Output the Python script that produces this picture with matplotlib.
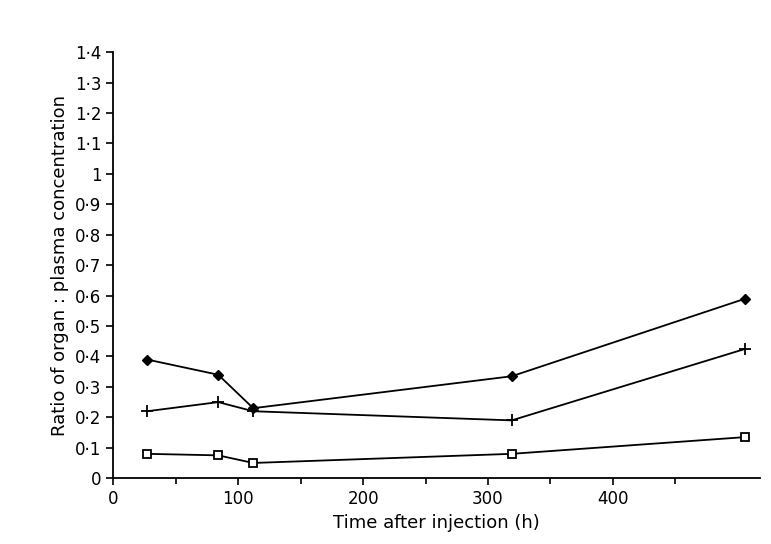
import matplotlib.pyplot as plt

# x positions as they sit against the printed axis labels
time_h = [27, 84, 112, 319, 506]
diamond = [0.39, 0.34, 0.23, 0.335, 0.59]
plus = [0.22, 0.25, 0.22, 0.19, 0.425]
square = [0.08, 0.075, 0.05, 0.08, 0.135]

yticks = [round(i * 0.1, 1) for i in range(15)]
ylabels = [('%g' % v).replace('.', '·') for v in yticks]

fig = plt.figure(figsize=(7.71, 5.44), dpi=100)
ax = fig.add_axes([0.147, 0.121, 0.839, 0.783])

ax.plot(time_h, diamond, color='black', lw=1.3, marker='D', ms=5)
ax.plot(time_h, plus, color='black', lw=1.3, marker='+', ms=9, mew=1.3)
ax.plot(time_h, square, color='black', lw=1.3, marker='s', ms=6, mfc='white', mew=1.3)

ax.set_xlim(0, 518)
ax.set_ylim(0, 1.4)
ax.set_xticks([0, 100, 200, 300, 400])
ax.set_xticks([50, 150, 250, 350, 450], minor=True)
ax.set_yticks(yticks)
ax.set_yticklabels(ylabels)
ax.tick_params(labelsize=12, direction='out', length=5, width=1.2)
ax.tick_params(which='minor', direction='out', length=4, width=1.2)
for s in ['top', 'right']:
    ax.spines[s].set_visible(False)
for s in ['left', 'bottom']:
    ax.spines[s].set_linewidth(1.3)

ax.set_xlabel('Time after injection (h)', fontsize=13)
ax.set_ylabel('Ratio of organ : plasma concentration', fontsize=13)

fig.savefig('out.png', dpi=100)
